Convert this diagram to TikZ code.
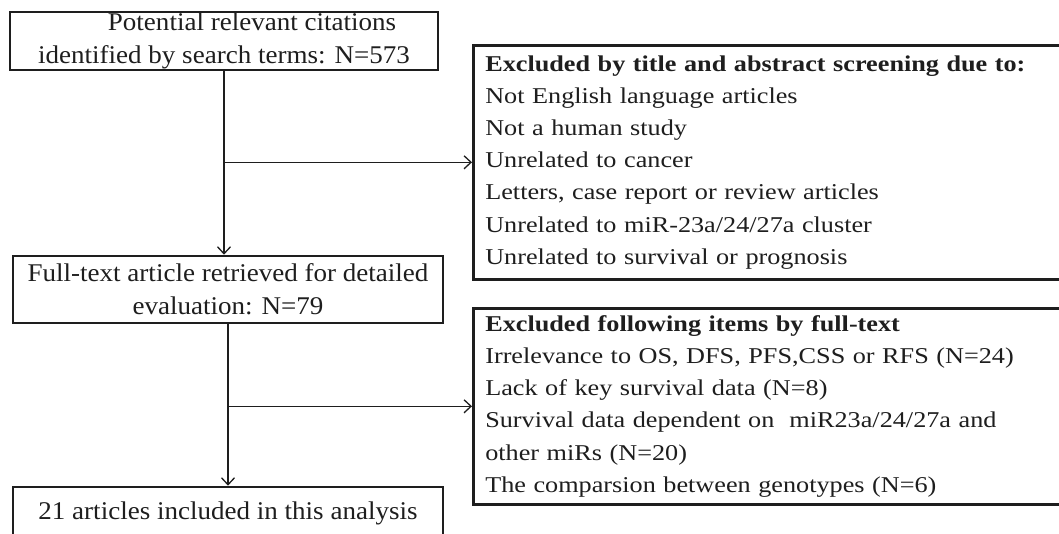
\documentclass[tikz,border=0pt]{standalone}
\usepackage{fontspec}
\setmainfont{Liberation Serif}
\newfontfamily\boxfont[FakeStretch=1.06]{Liberation Serif}
\newfontfamily\listfont[FakeStretch=1.16]{Liberation Serif}
\usepackage{tikz}
\usetikzlibrary{arrows.meta, positioning}
\usepackage{xcolor}
\definecolor{inkdark}{RGB}{30,30,30}
\tikzset{
    flowbox/.style={draw=inkdark, line width=2.6pt, inner sep=0pt, text=inkdark,
                    align=center, font=\boxfont\fontsize{25.5}{33}\selectfont},
    exclbox/.style={draw=inkdark, line width=2.6pt, anchor=north west, inner xsep=12pt,
                    inner ysep=0pt, text=inkdark, align=left, text width=640pt,
                    font=\listfont\fontsize{22.6}{32.2}\selectfont},
    flowline/.style={draw=inkdark, line width=1.5pt},
    flowarrow/.style={flowline, -{Straight Barb[length=7pt,width=13pt,line width=1.3pt]}}
}

\begin{document}
\begin{tikzpicture}[x=1pt, y=-1pt]
    \clip (0,0) rectangle (1059,534);
    \fill[white] (0,0) rectangle (1059,534);
    \node[flowbox, minimum width=428pt, minimum height=58pt] (search) at (224,41)
      {\hspace*{2.2em}Potential relevant citations\\identified by search terms: N=573};
    \node[flowbox, minimum width=430pt, minimum height=67pt] (fulltext) at (228,289.5)
      {Full-text article retrieved for detailed\\evaluation: N=79};
    \node[flowbox, minimum width=430pt, minimum height=52pt] (included) at (228,513)
      {21 articles included in this analysis};
    \node[exclbox, minimum height=234pt] (screen) at (472,44)
      {\textbf{Excluded by title and abstract screening due to:}\\
       Not English language articles\\
       Not a human study\\
       Unrelated to cancer\\
       Letters, case report or review articles\\
       Unrelated to miR-23a/24/27a cluster\\
       Unrelated to survival or prognosis};
    \node[exclbox, minimum height=196pt] (fullexcl) at (472,307)
      {\textbf{Excluded following items by full-text}\\
       Irrelevance to OS, DFS, PFS,CSS or RFS (N=24)\\
       Lack of key survival data (N=8)\\
       Survival data dependent on \ miR23a/24/27a and\\
       other miRs (N=20)\\
       The comparsion between genotypes (N=6)};
    \draw[flowarrow] (search.south) -- (search.south |- fulltext.north);
    \draw[flowarrow] (search.south |- screen.west) -- (screen.west);
    \draw[flowarrow] (fulltext.south) -- (included.north);
    \draw[flowarrow] (fulltext.south |- fullexcl.west) -- (fullexcl.west);
\end{tikzpicture}
\end{document}
